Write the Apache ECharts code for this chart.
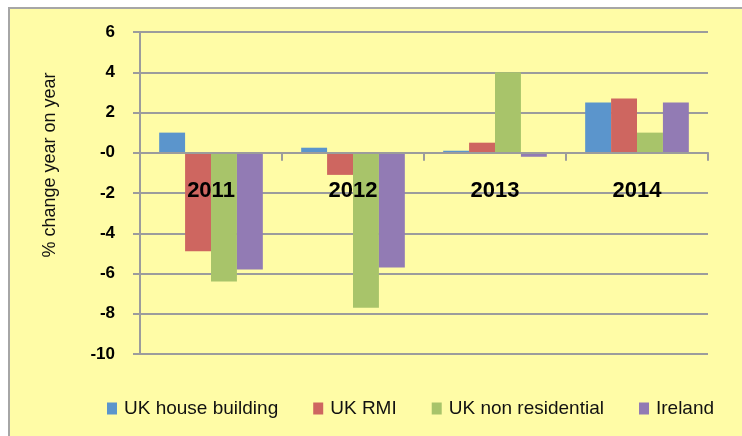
<!DOCTYPE html>
<html>
<head>
<meta charset="utf-8">
<script src="https://cdn.jsdelivr.net/npm/echarts@6/dist/echarts.min.js"></script>
<style>
html,body{margin:0;padding:0;background:#fff;}
#c{width:742px;height:436px;}
</style>
</head>
<body>
<div id="c"></div>
<script>
const categories = ['2011', '2012', '2013', '2014'];
const ukHouseBuilding = [1.0, 0.25, 0.1, 2.5];
const ukRMI = [-4.9, -1.1, 0.5, 2.7];
const ukNonResidential = [-6.4, -7.7, 4.0, 1.0];
const ireland = [-5.8, -5.7, -0.2, 2.5];
const yTickLabels = {'-10':'-10','-8':'-8','-6':'-6','-4':'-4','-2':'-2','0':'-0','2':'2','4':'4','6':'6'};
const seriesNames = ['UK house building', 'UK RMI', 'UK non residential', 'Ireland'];
const colors = ['#5B95CC', '#CE6660', '#A8C46A', '#927BB4'];

const chart = echarts.init(document.getElementById('c'), null, {renderer: 'canvas'});
const dataSets = [ukHouseBuilding, ukRMI, ukNonResidential, ireland];
const font = 'Liberation Sans, Arial, sans-serif';

chart.setOption({
  backgroundColor: '#ffffff',
  animation: false,
  color: colors,
  graphic: [
    {type: 'rect', z: -10, shape: {x: 9, y: 8, width: 760, height: 460},
     style: {fill: '#FFFCA6', stroke: '#A6A6A6', lineWidth: 2}},
    {type: 'text', x: 50, y: 165, rotation: Math.PI / 2,
     style: {text: '% change year on year', font: '18px ' + font, fill: '#111',
             align: 'center', verticalAlign: 'middle'}}
  ],
  grid: {left: 140, right: 34, top: 32, bottom: 82, containLabel: false},
  legend: {
    left: 102, top: 394, itemWidth: 10, itemHeight: 12, itemGap: 35,
    icon: 'rect',
    textStyle: {fontFamily: font, fontSize: 19, color: '#111', padding: [0, 0, 0, 2]},
    data: seriesNames
  },
  xAxis: {
    type: 'category', data: categories, z: 10,
    axisLine: {onZero: true, lineStyle: {color: '#9C9C9C', width: 2}},
    axisTick: {show: true, length: 8, inside: false, lineStyle: {color: '#9C9C9C', width: 2}},
    axisLabel: {margin: -174, fontFamily: font, fontSize: 22, fontWeight: 'bold', color: '#000'},
    splitLine: {show: false}
  },
  yAxis: {
    type: 'value', min: -10, max: 6, interval: 2,
    axisLine: {show: true, lineStyle: {color: '#9C9C9C', width: 2}},
    axisTick: {show: true, length: 7, lineStyle: {color: '#9C9C9C', width: 2}},
    axisLabel: {margin: 25, fontFamily: font, fontSize: 17, fontWeight: 'bold', color: '#000',
      formatter: v => yTickLabels[String(v)]},
    splitLine: {show: true, lineStyle: {color: '#9C9C9C', width: 2}}
  },
  series: dataSets.map((d, i) => ({
    name: seriesNames[i], type: 'bar', data: d,
    barGap: '0%', barCategoryGap: '27%',
    itemStyle: {color: colors[i]}
  }))
});
</script>
</body>
</html>
